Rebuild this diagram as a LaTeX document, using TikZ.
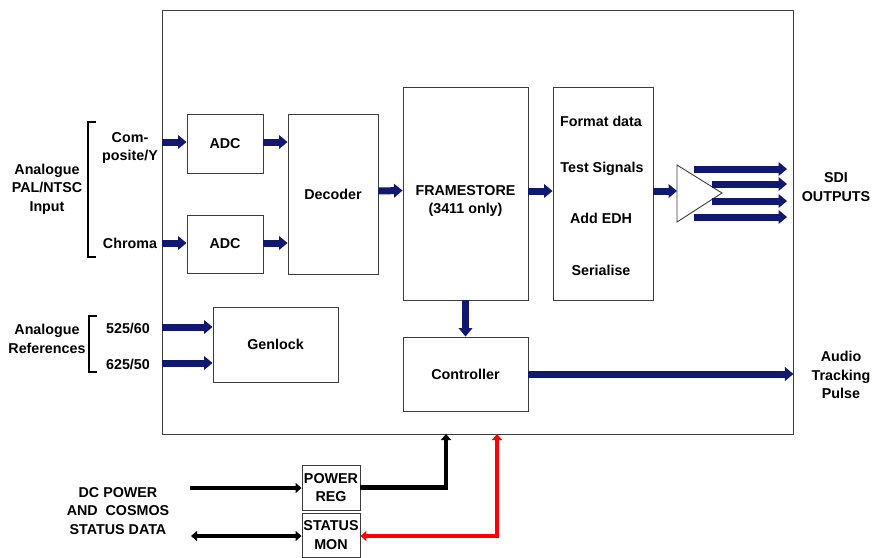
\documentclass[tikz,border=0pt]{standalone}
\usepackage{fontspec}
\setmainfont{Liberation Sans}
\usetikzlibrary{arrows.meta,positioning}
\definecolor{sdinavy}{RGB}{16,24,112}
\definecolor{boxgrey}{RGB}{60,60,60}

\begin{document}
\begin{tikzpicture}[x=1pt,y=-1pt,
        font=\fontsize{14.3}{18.5}\selectfont\bfseries,
        block/.style={rectangle, draw=boxgrey, line width=0.9pt, inner sep=0pt, align=center},
        lbl/.style={inner sep=0pt, align=center},
        bus/.style={draw=sdinavy, line width=7pt, -{Triangle[length=8.5pt,width=13.5pt]}},
        pwr/.style={line width=4.8pt, -{Triangle[length=6pt,width=10pt]}},
        pwrboth/.style={pwr, {Triangle[length=6pt,width=10pt]}-{Triangle[length=6pt,width=10pt]}},
        bracketline/.style={line width=2pt}
    ]
        \useasboundingbox (0,0) rectangle (872,557);

        % Blocks
        \node[block, minimum width=631pt, minimum height=424pt] (frame) at (477.5,222) {};
        \node[block, minimum width=76pt, minimum height=59pt] (adc1) at (225,143.5) {ADC};
        \node[block, minimum width=76pt, minimum height=58pt] (adc2) at (225,244) {ADC};
        \node[block, minimum width=90pt, minimum height=160pt] (dec) at (333,194) {Decoder};
        \node[block, minimum width=125pt, minimum height=213pt] (fstore) at (465.5,193.5) {};
        \node[lbl] (fslbl) at (465.5,201) {FRAMESTORE\\(3411 only)};
        \node[block, minimum width=100pt, minimum height=213pt] (fmt) at (603,193.5) {};
        \node[lbl] (fmt1) at (601,121) {Format data};
        \node[lbl] (fmt2) at (602,169) {Test Signals};
        \node[lbl] (fmt3) at (601,218) {Add EDH};
        \node[lbl] (fmt4) at (601,270) {Serialise};
        \node[block, minimum width=125pt, minimum height=75pt] (genlock) at (275.5,344.5) {Genlock};
        \node[block, minimum width=125pt, minimum height=74pt] (ctrl) at (465.5,374) {Controller};
        \node[block, minimum width=58pt, minimum height=45pt] (preg) at (331,487.5) {POWER\\REG};
        \node[block, minimum width=58pt, minimum height=44pt] (smon) at (331,535) {STATUS\\MON};

        % Output buffer
        \coordinate (buf) at (677,191);
        \draw[boxgrey, line width=0.9pt] (677,165) -- (722,193) -- (677,222) -- cycle;

        % Labels
        \node[lbl] (cvlbl) at (130,148) {Com-\\posite/Y};
        \node[lbl] (chlbl) at (130,243) {Chroma};
        \node[lbl] (anin) at (47,189) {Analogue\\PAL/NTSC\\Input};
        \node[lbl] (r525) at (128,328) {525/60};
        \node[lbl] (r625) at (128,364) {625/50};
        \node[lbl] (anref) at (47,339) {Analogue\\References};
        \node[lbl] (sdi) at (836,187) {SDI\\OUTPUTS};
        \node[lbl] (audio) at (841,375) {Audio\\Tracking\\Pulse};
        \node[lbl] (dcpow) at (118,511) {DC POWER\\AND\ \ COSMOS\\STATUS DATA};

        % Brackets
        \draw[bracketline] (96,122) -- (88,122) -- (88,257) -- (96,257);
        \draw[bracketline] (97,316) -- (89,316) -- (89,372) -- (97,372);

        % Arrows
        \coordinate (cvin) at (frame.west |- 0,142);
        \coordinate (chin) at (frame.west |- 0,243);
        \coordinate (ref1) at (frame.west |- 0,327);
        \coordinate (ref2) at (frame.west |- 0,363);
        \draw[bus] (cvin) -- (cvin -| adc1.west);
        \draw[bus] (chin) -- (chin -| adc2.west);
        \draw[bus] (cvin -| adc1.east) -- (cvin -| dec.west);
        \draw[bus] (chin -| adc2.east) -- (chin -| dec.west);
        \draw[bus] (ref1) -- (ref1 -| genlock.west);
        \draw[bus] (ref2) -- (ref2 -| genlock.west);
        \draw[bus] ([yshift=3pt]dec.east) -- ([yshift=3pt]fstore.west);
        \draw[bus] ([yshift=2.5pt]fstore.east) -- ([yshift=2.5pt]fstore.east -| fmt.west);
        \draw[bus] (buf -| fmt.east) -- (buf);
        \draw[bus] (fstore.south) -- (ctrl.north);
        \draw[bus] (ctrl.east) -- (ctrl.east -| frame.east);

        % SDI outputs
        \coordinate (sdiend) at (787,0);
        \foreach \i/\y/\xs in {1/169/694, 2/184/712, 3/201/712, 4/217/694} {
            \coordinate (out\i) at (\xs,\y);
            \draw[bus] (out\i) -- (out\i -| sdiend);
        }

        % Power and status
        \coordinate (dcin) at (190,488);
        \coordinate (statin) at (191,536);
        \coordinate (pwrin) at (446,434);
        \coordinate (monout) at (497,434);
        \draw[pwr] (dcin) -- (dcin -| preg.west);
        \draw[pwr] (preg.east) -| (pwrin);
        \draw[pwrboth] (statin) -- (statin -| smon.west);
        \draw[pwrboth, red] (smon.east |- 0,536) -| (monout);
    \end{tikzpicture}
\end{document}
